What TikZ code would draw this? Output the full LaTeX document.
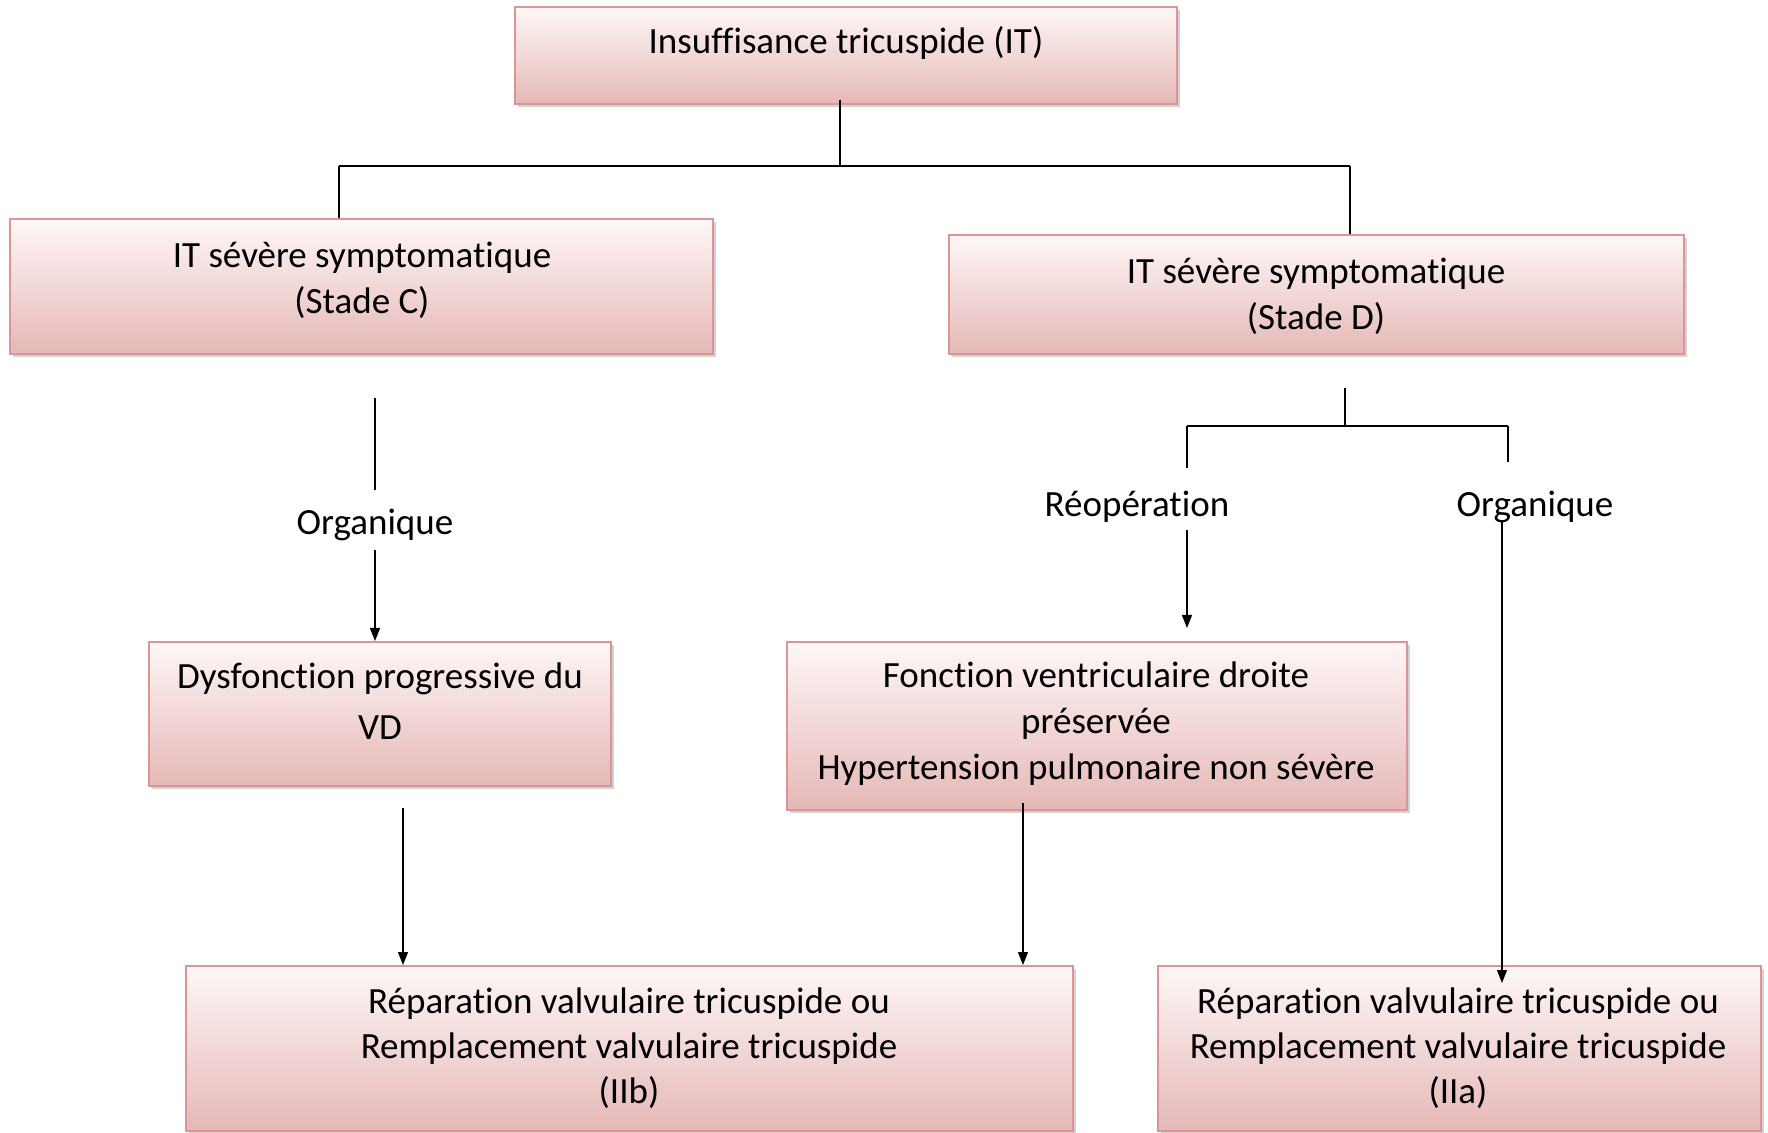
\documentclass[tikz,border=0pt]{standalone}
\usepackage{fontspec}
\setmainfont{Carlito}[RawFeature={-liga;-dlig;-clig;-calt}]
\usetikzlibrary{shadows,arrows.meta}
\definecolor{boxborder}{RGB}{217,150,148}
\definecolor{boxtop}{RGB}{254,247,247}
\definecolor{boxbottom}{RGB}{229,184,183}
\begin{document}
\begin{tikzpicture}[x=0.5pt,y=-0.5pt,
  box/.style={draw=boxborder, line width=1pt, top color=boxtop, bottom color=boxbottom,
    drop shadow={shadow xshift=1.6pt, shadow yshift=-1.6pt, fill=gray!70}, inner sep=0pt},
  txt/.style={font=\fontsize{18.5pt}{23pt}\selectfont, align=center, inner sep=0pt},
  conn/.style={draw=black, line width=0.6pt},
  arr/.style={conn, -{Triangle[width=5pt,length=6.5pt]}}]
\useasboundingbox (0,0) rectangle (1768,1133);

% boxes
\node[box, minimum width=331pt, minimum height=48.5pt] (top) at (846,55.5) {};
\node[box, minimum width=351.5pt, minimum height=67.5pt] (stc) at (361.5,286.5) {};
\node[box, minimum width=367.5pt, minimum height=59.5pt] (std) at (1316.5,294.5) {};
\node[box, minimum width=231pt, minimum height=72pt] (dys) at (380,714) {};
\node[box, minimum width=310pt, minimum height=84pt] (fon) at (1097,726) {};
\node[box, minimum width=443.5pt, minimum height=82.5pt] (iib) at (629.5,1048.5) {};
\node[box, minimum width=301.5pt, minimum height=82.5pt] (iia) at (1459.5,1048.5) {};

% texts
\node[txt] (toptxt) at (846,43) {Insuffisance tricuspide (IT)};
\node[txt] (stctxt) at (362,280) {IT sévère symptomatique\\(Stade C)};
\node[txt] (stdtxt) at (1316,296) {IT sévère symptomatique\\(Stade D)};
\node[txt, font=\fontsize{18.5pt}{25.5pt}\selectfont] (dystxt) at (380,701) {Dysfonction progressive du\\VD};
\node[txt] (fontxt) at (1096,724) {Fonction ventriculaire droite\\préservée\\Hypertension pulmonaire non sévère};
\node[txt, font=\fontsize{18.5pt}{22.5pt}\selectfont] (iibtxt) at (629,1048) {Réparation valvulaire tricuspide ou\\Remplacement valvulaire tricuspide\\(IIb)};
\node[txt, font=\fontsize{18.5pt}{22.5pt}\selectfont] (iiatxt) at (1458,1048) {Réparation valvulaire tricuspide ou\\Remplacement valvulaire tricuspide\\(IIa)};
\node[txt] (orgl) at (375,525) {Organique};
\node[txt] (reop) at (1137,507) {Réopération};
\node[txt] (orgr) at (1535,507) {Organique};

% coordinates
\coordinate (t1) at (840,100);
\coordinate (t2) at (840,166);
\coordinate (hl) at (339,166);
\coordinate (hr) at (1350,166);
\coordinate (l1) at (375,398);
\coordinate (l2) at (375,490);
\coordinate (l3) at (375,550);
\coordinate (l4) at (403,808);
\coordinate (r1) at (1345,388);
\coordinate (r2) at (1345,426);
\coordinate (rl) at (1187,426);
\coordinate (rr) at (1508,426);
\coordinate (rl2) at (1187,468);
\coordinate (rr2) at (1508,462);
\coordinate (rl3) at (1187,530);
\coordinate (rl4) at (1187,628);
\coordinate (f1) at (1023,803);
\coordinate (o1) at (1502,521);
\coordinate (o2) at (1502,983);

% connectors
\draw[conn] (t1) -- (t2);
\draw[conn] (hl) -- (hr);
\draw[conn] (hl) -- (hl |- stc.north);
\draw[conn] (hr) -- (hr |- std.north);
\draw[conn] (l1) -- (l2);
\draw[arr] (l3) -- (l3 |- dys.north);
\draw[arr] (l4) -- (l4 |- iib.north);
\draw[conn] (r1) -- (r2);
\draw[conn] (rl) -- (rr);
\draw[conn] (rl) -- (rl2);
\draw[conn] (rr) -- (rr2);
\draw[arr] (rl3) -- (rl4);
\draw[arr] (f1) -- (f1 |- iib.north);
\draw[arr] (o1) -- (o2);
\end{tikzpicture}
\end{document}
